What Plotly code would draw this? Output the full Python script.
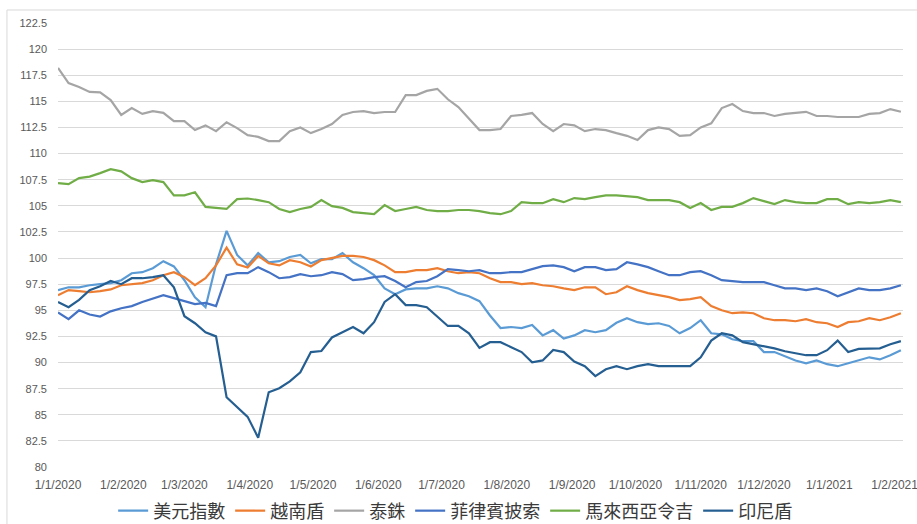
import pandas as pd
import plotly.graph_objects as go

# Sampling grid: every 5 days from 1 Jan 2020 to early Feb 2021
dates = pd.date_range("2020-01-01", periods=81, freq="5D")

usd_index = [
    96.93, 97.2, 97.2, 97.4, 97.5, 97.6, 97.88, 98.55, 98.65, 99.03,
    99.7, 99.2, 97.88, 96.25, 95.3, 99.4, 102.6, 100.3, 99.3, 100.47,
    99.6, 99.7, 100.1, 100.3, 99.5, 99.9, 99.9, 100.47, 99.6, 99.03,
    98.36, 97.1, 96.54, 97.0, 97.1, 97.1, 97.3, 97.1, 96.64, 96.35,
    95.87, 94.5, 93.3, 93.4, 93.3, 93.6, 92.6, 93.1, 92.3, 92.6,
    93.1, 92.9, 93.1, 93.8, 94.25, 93.86, 93.67, 93.76, 93.5, 92.8,
    93.3, 94.05, 92.8, 92.7, 92.23, 92.04, 92.04, 91.0, 91.0, 90.6,
    90.2, 89.93, 90.2, 89.84, 89.65, 89.93, 90.2, 90.5, 90.3, 90.7,
    91.18,
]

vnd = [
    96.45, 96.93, 96.83, 96.73, 96.83, 97.0, 97.4, 97.5, 97.6, 97.88,
    98.36, 98.65, 98.17, 97.4, 98.07, 99.3, 101.0, 99.4, 99.1, 100.2,
    99.5, 99.3, 99.8, 99.6, 99.2, 99.8, 100.0, 100.2, 100.2, 100.1,
    99.8, 99.3, 98.65, 98.65, 98.84, 98.84, 99.03, 98.74, 98.55, 98.65,
    98.55, 98.07, 97.7, 97.7, 97.5, 97.6, 97.4, 97.3, 97.1, 96.93,
    97.2, 97.2, 96.54, 96.73, 97.3, 96.93, 96.64, 96.45, 96.26, 95.97,
    96.07, 96.26, 95.4, 95.0, 94.72, 94.8, 94.72, 94.24, 94.05, 94.05,
    93.95, 94.15, 93.86, 93.76, 93.4, 93.86, 93.95, 94.24, 94.05, 94.34,
    94.72,
]

thb = [
    118.2, 116.75, 116.37, 115.9, 115.86, 115.12, 113.7, 114.36, 113.8, 114.07,
    113.9, 113.1, 113.1, 112.25, 112.7, 112.15, 113.0, 112.44, 111.77, 111.6,
    111.2, 111.2, 112.15, 112.5, 111.96, 112.35, 112.83, 113.7, 113.98, 114.07,
    113.88, 113.98, 113.98, 115.6, 115.6, 116.0, 116.2, 115.2, 114.45, 113.4,
    112.25, 112.25, 112.35, 113.6, 113.7, 113.88, 112.83, 112.15, 112.83, 112.7,
    112.15, 112.35, 112.25, 111.96, 111.7, 111.3, 112.25, 112.5, 112.35, 111.7,
    111.77, 112.5, 112.9, 114.36, 114.74, 114.07, 113.88, 113.88, 113.6, 113.8,
    113.88, 114.0, 113.6, 113.6, 113.5, 113.5, 113.5, 113.8, 113.88, 114.26,
    114.0,
]

php = [
    94.8, 94.15, 95.0, 94.6, 94.4, 94.9, 95.2, 95.4, 95.8, 96.16,
    96.45, 96.16, 95.87, 95.6, 95.7, 95.4, 98.36, 98.55, 98.55, 99.13,
    98.65, 98.07, 98.17, 98.46, 98.26, 98.36, 98.65, 98.46, 97.88, 97.98,
    98.17, 98.26, 97.8, 97.2, 97.7, 97.8, 98.26, 98.94, 98.84, 98.74,
    98.84, 98.55, 98.55, 98.65, 98.65, 98.94, 99.23, 99.3, 99.13, 98.74,
    99.13, 99.13, 98.84, 98.94, 99.6, 99.4, 99.13, 98.74, 98.36, 98.36,
    98.65, 98.74, 98.36, 97.88, 97.8, 97.7, 97.7, 97.7, 97.4, 97.1,
    97.1, 96.93, 97.1, 96.83, 96.35, 96.73, 97.1, 96.93, 96.93, 97.1,
    97.4,
]

myr = [
    107.17, 107.08, 107.65, 107.8, 108.13, 108.5, 108.3, 107.65, 107.27, 107.46,
    107.27, 106.0, 106.0, 106.3, 104.9, 104.8, 104.7, 105.64, 105.7, 105.55,
    105.35, 104.7, 104.4, 104.7, 104.9, 105.55, 104.97, 104.8, 104.4, 104.3,
    104.2, 105.07, 104.5, 104.7, 104.9, 104.6, 104.5, 104.5, 104.6, 104.6,
    104.5, 104.3, 104.2, 104.5, 105.35, 105.25, 105.25, 105.64, 105.35, 105.74,
    105.64, 105.83, 106.0, 106.0, 105.9, 105.83, 105.55, 105.55, 105.55, 105.35,
    104.8, 105.26, 104.6, 104.9, 104.9, 105.26, 105.74, 105.45, 105.16, 105.55,
    105.35, 105.26, 105.26, 105.64, 105.64, 105.16, 105.35, 105.26, 105.35, 105.55,
    105.35,
]

idr = [
    95.8, 95.3, 96.0, 96.93, 97.3, 97.8, 97.5, 98.07, 98.07, 98.17,
    98.36, 97.2, 94.43, 93.76, 92.9, 92.5, 86.68, 85.7, 84.8, 82.8,
    87.15, 87.54, 88.2, 89.07, 91.0, 91.1, 92.4, 92.9, 93.4, 92.8,
    93.86, 95.8, 96.54, 95.5, 95.5, 95.3, 94.43, 93.5, 93.5, 92.8,
    91.4, 91.95, 91.95, 91.5, 91.0, 90.03, 90.2, 91.2, 91.0, 90.1,
    89.65, 88.7, 89.36, 89.65, 89.36, 89.65, 89.84, 89.65, 89.65, 89.65,
    89.65, 90.5, 92.1, 92.8, 92.6, 91.95, 91.75, 91.55, 91.36, 91.08,
    90.9, 90.7, 90.7, 91.18, 92.1, 91.0, 91.3, 91.36, 91.36, 91.75,
    92.05,
]

series = [
    ("美元指數", usd_index, "#5B9BD5"),
    ("越南盾", vnd, "#ED7D31"),
    ("泰銖", thb, "#A5A5A5"),
    ("菲律賓披索", php, "#4472C4"),
    ("馬來西亞令吉", myr, "#70AD47"),
    ("印尼盾", idr, "#255E91"),
]

fig = go.Figure()
for name, values, color in series:
    fig.add_trace(go.Scatter(
        x=dates, y=values, name=name, mode="lines",
        line=dict(color=color, width=2.2),
    ))

# Light chart-area frame around the plot
fig.add_shape(
    type="rect", xref="paper", yref="paper",
    x0=-0.0604, x1=1.2, y0=-0.3, y1=1.0293,
    line=dict(color="#D9D9D9", width=1), fillcolor="rgba(0,0,0,0)",
    layer="below",
)

fig.update_layout(
    width=917, height=524,
    margin=dict(l=58, r=14, t=23, b=57, autoexpand=False),
    paper_bgcolor="white", plot_bgcolor="white",
    showlegend=True,
    legend=dict(
        orientation="h", x=0.47, xanchor="center", y=-0.099, yanchor="middle",
        font=dict(family="Noto Sans CJK TC", size=18, color="#3A3A3A"),
        itemwidth=30, bgcolor="rgba(0,0,0,0)",
    ),
)

fig.update_xaxes(
    type="date",
    range=["2020-01-01", "2021-02-05"],
    tick0="2020-01-01", dtick="M1",
    tickformat="%-d/%-m/%Y",
    showgrid=False, zeroline=False, showline=False,
    tickfont=dict(family="Liberation Sans", size=12, color="#595959"),
    ticks="", ticklabelstandoff=9, ticklabeloverflow="allow",
)

fig.update_yaxes(
    range=[80, 122.5], dtick=2.5, tick0=80,
    showgrid=True, gridcolor="#D9D9D9", gridwidth=1,
    zeroline=False, showline=False,
    tickfont=dict(family="Liberation Sans", size=11, color="#595959"),
    ticks="", ticklabelstandoff=10,
)

fig.write_html("out.html")
